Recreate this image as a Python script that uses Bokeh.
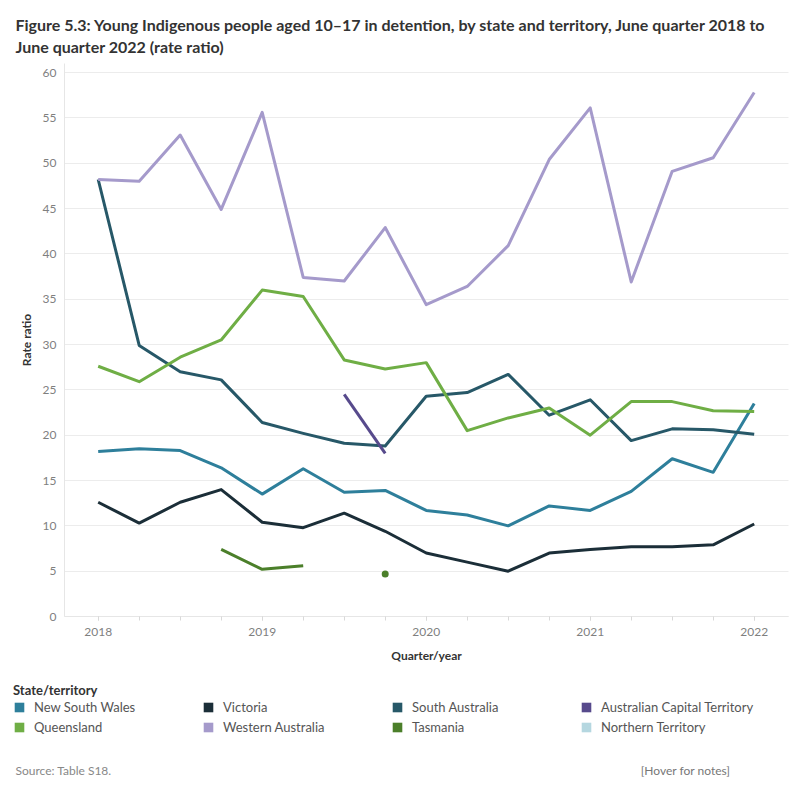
import numpy as np
from bokeh.plotting import figure
from bokeh.models import Range1d, FixedTicker, Label, Legend, LegendItem
from bokeh.embed import file_html
from bokeh.resources import INLINE

# Quarterly observations, June quarter 2018 .. June quarter 2022
quarters = [2018 + i * 0.25 for i in range(17)]
year_ticks = [2018, 2019, 2020, 2021, 2022]
year_labels = ["2018", "2019", "2020", "2021", "2022"]
y_ticks = list(range(0, 61, 5))

nsw = [18.2, 18.5, 18.3, 16.4, 13.5, 16.3, 13.7, 13.9, 11.7, 11.2, 10.0, 12.2, 11.7, 13.8, 17.4, 15.9, 23.5]
vic = [12.6, 10.3, 12.6, 14.0, 10.4, 9.8, 11.4, 9.4, 7.0, 6.0, 5.0, 7.0, 7.4, 7.7, 7.7, 7.9, 10.2]
sa = [48.2, 29.9, 27.0, 26.1, 21.4, 20.2, 19.1, 18.8, 24.3, 24.7, 26.7, 22.2, 23.9, 19.4, 20.7, 20.6, 20.1]
act = [None, None, None, None, None, None, 24.5, 18.0, None, None, None, None, None, None, None, None, None]
qld = [27.6, 25.9, 28.6, 30.5, 36.0, 35.3, 28.3, 27.3, 28.0, 20.5, 21.9, 23.0, 20.0, 23.7, 23.7, 22.7, 22.6]
wa = [48.2, 48.0, 53.1, 44.9, 55.6, 37.4, 37.0, 42.9, 34.4, 36.4, 40.9, 50.4, 56.1, 36.9, 49.1, 50.6, 57.8]
tas = [None, None, None, 7.4, 5.2, 5.6, None, 4.7, None, None, None, None, None, None, None, None, None]
nt = [None] * 17

states = ["New South Wales", "Victoria", "South Australia", "Australian Capital Territory",
          "Queensland", "Western Australia", "Tasmania", "Northern Territory"]
series = [nsw, vic, sa, act, qld, wa, tas, nt]
colors = ["#2e7f9b", "#1b2e38", "#275868", "#574a8c",
          "#6fae45", "#a59acb", "#4b7f2a", "#b5d7e0"]

FONT = "Lato"
W = H = 800

# Page geometry: the plot frame fills the whole page, and the axes are pinned
# at fixed positions inside it so title, legend and notes share one canvas.
PANE_L, PANE_R, PANE_T, PANE_B = 64, 788, 63, 616   # chart pane, page pixels
X_ORIGIN_PX, PX_PER_YEAR = 97.7, 164.0               # where 2018 sits, scale
PX_PER_UNIT = (PANE_B - 72) / 60.0                   # 60 sits at y=72


def xdata(px):
    return 2018 + (px - X_ORIGIN_PX) / PX_PER_YEAR


def ydata(py):
    return (PANE_B - py) / PX_PER_UNIT


p = figure(width=W, height=H, output_backend="svg", toolbar_location=None,
           title_location=None,
           x_range=Range1d(xdata(0), xdata(W)), y_range=Range1d(ydata(H), ydata(0)),
           min_border=0, min_border_left=0, min_border_right=0,
           min_border_top=0, min_border_bottom=0)
p.outline_line_color = None

# grid: horizontal lines across the chart pane only
p.xgrid.grid_line_color = None
yg = p.ygrid[0]
yg.ticker = FixedTicker(ticks=y_ticks)
yg.grid_line_color = "#ececec"
yg.grid_line_width = 1
yg.bounds = (0, ydata(PANE_T))
if "cross_bounds" in yg.properties():
    yg.cross_bounds = (xdata(PANE_L), xdata(PANE_R))

# y axis
ya = p.yaxis[0]
ya.fixed_location = xdata(PANE_L)
ya.bounds = (0, ydata(PANE_T))
ya.ticker = FixedTicker(ticks=y_ticks)
ya.axis_label = "Rate ratio"
ya.axis_line_color = "#e6e6e6"
ya.major_tick_line_color = None
ya.minor_tick_line_color = None
ya.major_label_standoff = 2
ya.axis_label_standoff = 6
ya.major_label_text_font = FONT
ya.major_label_text_font_size = "12px"
ya.major_label_text_color = "#7f7f7f"
ya.axis_label_text_font = FONT
ya.axis_label_text_font_size = "12px"
ya.axis_label_text_font_style = "bold"
ya.axis_label_text_color = "#333333"

# x axis
xa = p.xaxis[0]
xa.fixed_location = 0
xa.bounds = (xdata(PANE_L), xdata(PANE_R))
xa.ticker = FixedTicker(ticks=year_ticks, minor_ticks=quarters)
xa.major_label_overrides = {t: s for t, s in zip(year_ticks, year_labels)}
xa.axis_label = "Quarter/year"
xa.axis_line_color = "#e6e6e6"
xa.major_tick_line_color = "#d9d9d9"
xa.minor_tick_line_color = "#d9d9d9"
xa.major_tick_in = 0
xa.major_tick_out = 4
xa.minor_tick_in = 0
xa.minor_tick_out = 4
xa.major_label_standoff = 7
xa.axis_label_standoff = 9
xa.major_label_text_font = FONT
xa.major_label_text_font_size = "12px"
xa.major_label_text_color = "#7f7f7f"
xa.axis_label_text_font = FONT
xa.axis_label_text_font_size = "12px"
xa.axis_label_text_font_style = "bold"
xa.axis_label_text_color = "#333333"

# series
legend_items = []
for name, vals, col in zip(states, series, colors):
    y = np.array([np.nan if v is None else v for v in vals], dtype=float)
    x = np.array(quarters)
    if np.isfinite(y).any():
        # gaps break the line; lone observations are shown as dots
        p.line(x, y, line_color=col, line_width=3, line_join="round")
        ok = np.isfinite(y)
        prev_ok = np.r_[False, ok[:-1]]
        next_ok = np.r_[ok[1:], False]
        lone = ok & ~prev_ok & ~next_ok
        if lone.any():
            p.scatter(x[lone], y[lone], size=7, marker="circle",
                      fill_color=col, line_color=None)
    # square colour key for the legend (draws nothing in the chart)
    swatch = p.rect(x=[np.nan], y=[np.nan], width=1, height=1,
                    fill_color=col, line_color=None)
    legend_items.append(LegendItem(label=name, renderers=[swatch]))

legend = Legend(items=legend_items, ncols=4, orientation="horizontal",
                title="State/territory",
                title_text_font=FONT, title_text_font_size="13px",
                title_text_font_style="bold", title_text_color="#333333",
                title_standoff=1,
                label_text_font=FONT, label_text_font_size="13px",
                label_text_color="#555555",
                glyph_width=12, glyph_height=12, label_standoff=9,
                label_width=164, label_height=14, spacing=4,
                padding=0, margin=0, border_line_color=None,
                background_fill_alpha=0,
                location=(13, H - 735))
p.add_layout(legend, "center")


def note(cx, cy, text, **kw):
    p.add_layout(Label(x=cx, y=H - cy, x_units="screen", y_units="screen", text=text,
                       text_font=FONT, text_baseline="middle", **kw))


title_lines = ["Figure 5.3: Young Indigenous people aged 10\u201317 in detention, by state and territory, June quarter 2018 to",
               "June quarter 2022 (rate ratio)"]
for i, line in enumerate(title_lines):
    note(15, 24 + 22 * i, line, text_font_size="16px", text_font_style="bold",
         text_color="#333333", text_align="left")

note(15, 770, "Source: Table S18.", text_font_size="12px", text_color="#888888", text_align="left")
note(730, 770, "[Hover for notes]", text_font_size="12px", text_color="#777777", text_align="right")

open("out.html", "w").write(file_html(p, INLINE))
